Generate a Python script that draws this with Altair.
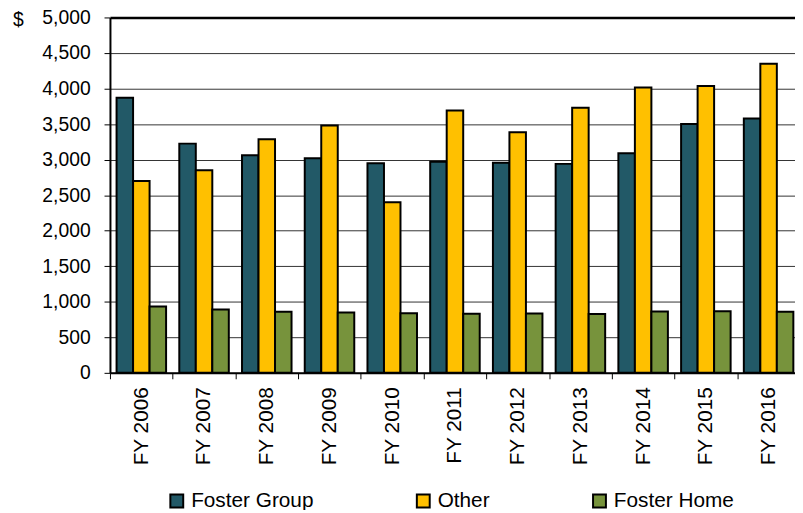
import altair as alt
import pandas as pd

years = ["FY 2006", "FY 2007", "FY 2008", "FY 2009", "FY 2010", "FY 2011",
         "FY 2012", "FY 2013", "FY 2014", "FY 2015", "FY 2016"]
series = ["Foster Group", "Other", "Foster Home"]
foster_group = [3870, 3225, 3060, 3020, 2950, 2970, 2955, 2940, 3090, 3500, 3580]
other = [2700, 2850, 3285, 3480, 2400, 3690, 3385, 3730, 4015, 4035, 4350]
foster_home = [935, 890, 860, 850, 838, 832, 836, 828, 864, 868, 860]
colors = ["#225967", "#FFC000", "#77933C"]
y_ticks = list(range(0, 5001, 500))

rows = []
for i, yr in enumerate(years):
    for s, vals in zip(series, [foster_group, other, foster_home]):
        rows.append({"year": yr, "series": s, "value": vals[i]})
df = pd.DataFrame(rows)

FONT = "Liberation Sans"

chart = alt.Chart(df).mark_bar(stroke="black", strokeWidth=2).encode(
    x=alt.X("year:N", sort=years,
            scale=alt.Scale(range=[0, 697], paddingInner=0, paddingOuter=0),
            axis=alt.Axis(title=None, labelAngle=270, labelAlign="right",
                          labelBaseline="middle", labelFontSize=21, labelFont=FONT,
                          labelColor="black", labelPadding=8, tickBand="extent",
                          tickSize=6, tickColor="black", tickWidth=1,
                          domainColor="black", domainWidth=2, grid=False)),
    xOffset=alt.XOffset("series:N", sort=series,
                        scale=alt.Scale(paddingInner=0, paddingOuter=0.4)),
    y=alt.Y("value:Q", scale=alt.Scale(domain=[0, 5000], nice=False),
            axis=alt.Axis(values=y_ticks, format=",d", title="$", titleAngle=0,
                          titleX=-93, titleY=2, titleAlign="center",
                          titleBaseline="middle", titleFontSize=19.5,
                          titleFontWeight="normal", titleFont=FONT, titleColor="black",
                          labelFontSize=19.5, labelFont=FONT, labelColor="black",
                          labelPadding=14, labelOverlap=False, tickSize=6,
                          tickColor="black", domainColor="black", domainWidth=2,
                          grid=True,
                          gridColor={"condition": {"test": "datum.value === 5000",
                                                   "value": "black"},
                                     "value": "#333333"},
                          gridWidth={"condition": {"test": "datum.value === 5000",
                                                   "value": 2.5},
                                     "value": 1})),
    color=alt.Color("series:N", sort=series,
                    scale=alt.Scale(domain=series, range=colors),
                    legend=alt.Legend(title=None, orient="none", legendX=57, legendY=478,
                                      direction="horizontal", columnPadding=100,
                                      symbolType="square", symbolSize=169,
                                      symbolStrokeColor="black", symbolStrokeWidth=2,
                                      labelFontSize=21, labelFont=FONT,
                                      labelColor="black", labelOffset=4, padding=0)),
).properties(
    width=692, height=359,
    autosize="none",
    padding={"left": 103, "top": 7, "right": 0, "bottom": 136},
).configure_view(stroke=None)

chart.save("out.html", embed_options={"renderer": "svg", "actions": False})
